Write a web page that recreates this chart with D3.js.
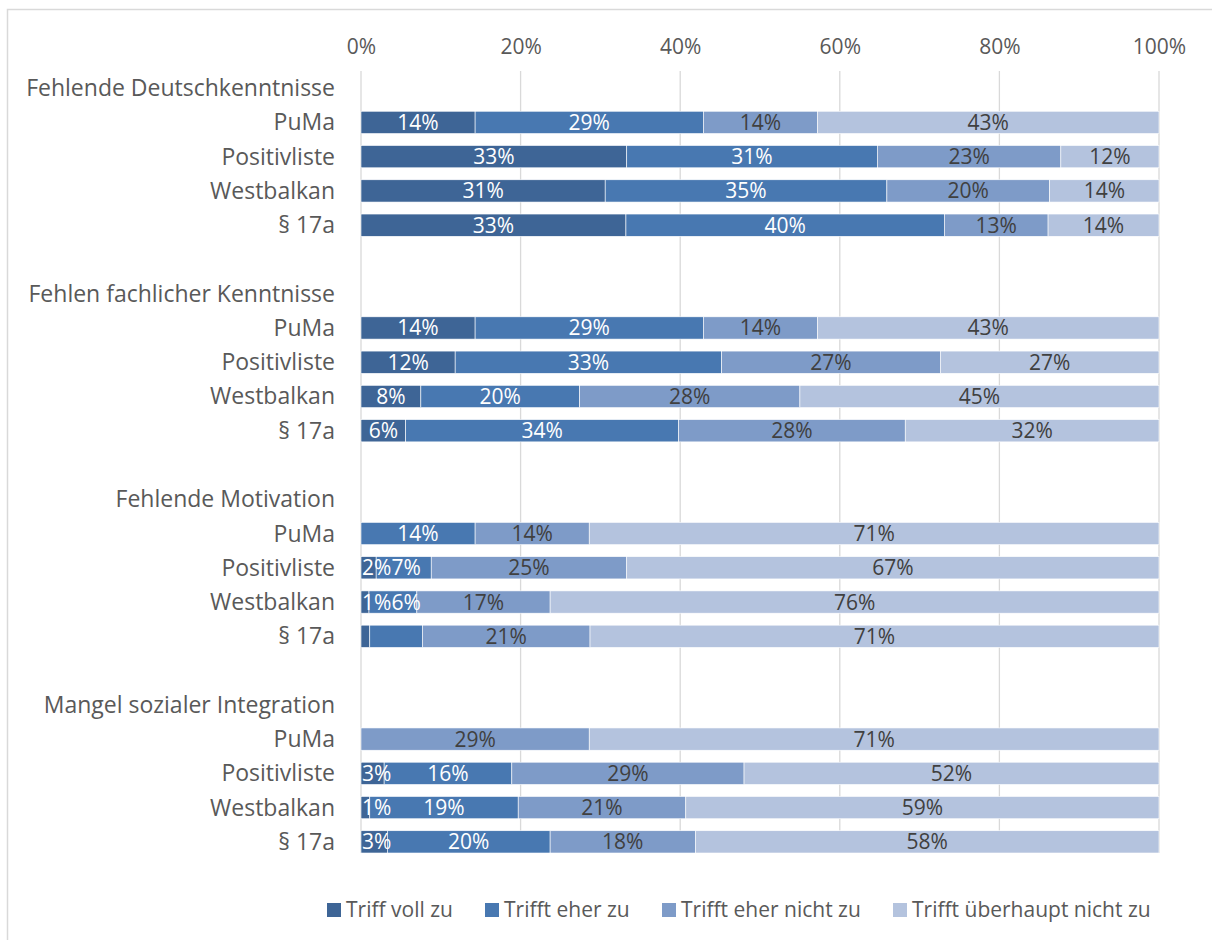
<!DOCTYPE html>
<html><head><meta charset="utf-8">
<script src="https://cdn.jsdelivr.net/npm/d3@7"></script>
<style>body{margin:0;background:#fff}svg{display:block}text{font-family:"Open Sans",sans-serif}</style>
</head><body><svg id="c" width="1212" height="940"></svg>
<script>
const groups = ["Fehlende Deutschkenntnisse", "Fehlen fachlicher Kenntnisse", "Fehlende Motivation", "Mangel sozialer Integration"];
const programs = ["PuMa", "Positivliste", "Westbalkan", "§ 17a"];
const seriesNames = ["Triff voll zu", "Trifft eher zu", "Trifft eher nicht zu", "Trifft überhaupt nicht zu"];
const vollZu          = [14.3, 33.3, 30.6, 33.2, 14.3, 11.8, 7.5, 5.6, 0, 1.9, 1.0, 1.1, 0, 2.9, 1.1, 3.3];
const eherZu          = [28.6, 31.4, 35.3, 39.9, 28.6, 33.4, 19.9, 34.2, 14.3, 6.9, 6.0, 6.6, 0, 16.0, 18.6, 20.4];
const eherNicht       = [14.3, 23.0, 20.4, 13.0, 14.3, 27.4, 27.6, 28.4, 14.3, 24.5, 16.7, 21.0, 28.6, 29.1, 21.0, 18.2];
const ueberhauptNicht = [42.8, 12.3, 13.7, 13.9, 42.8, 27.4, 45.0, 31.8, 71.4, 66.7, 76.3, 71.3, 71.4, 52.0, 59.3, 58.1];
const tickValues = [0, 20, 40, 60, 80, 100];
const hiddenLabels = [[11, 0], [11, 1]]; // [data row, series] without data label
const colors = ["#3e6596", "#4878b1", "#7e9bc8", "#b4c3de"];
const labelColors = ["#ffffff", "#ffffff", "#404040", "#404040"];

const seriesValues = [vollZu, eherZu, eherNicht, ueberhauptNicht];

const rows = [];
let di = 0;
groups.forEach((g, gi) => {
  rows.push({key: "h" + gi, label: g, header: true});
  programs.forEach(p => { rows.push({key: "r" + di, label: p, data: di}); di++; });
  if (gi < groups.length - 1) rows.push({key: "s" + gi, label: ""});
});

const svg = d3.select("#c");
svg.append("rect").attr("x", 7.5).attr("y", 9.5).attr("width", 1220).attr("height", 950)
  .attr("fill", "#fff").attr("stroke", "#d9d9d9").attr("stroke-width", 1.5);

const x = d3.scaleLinear().domain([0, 100]).range([361, 1159]);
const y = d3.scaleBand().domain(rows.map(r => r.key)).range([71, 859]).paddingInner(0.35).paddingOuter(0.175);

svg.append("g").selectAll("line").data(tickValues).join("line")
  .attr("x1", d => x(d)).attr("x2", d => x(d)).attr("y1", 71).attr("y2", 853)
  .attr("stroke", "#d9d9d9").attr("stroke-width", 1.3);

const ax = svg.append("g").attr("transform", "translate(0,54)")
  .call(d3.axisTop(x).tickValues(tickValues).tickFormat(d => d + "%").tickSize(0).tickPadding(0));
ax.select(".domain").remove();
ax.selectAll("text").attr("font-size", 21).attr("fill", "#595959").attr("dy", 0)
  .style("font-family", "'Open Sans',sans-serif");

svg.append("g").selectAll("text").data(rows.filter(r => r.label)).join("text")
  .attr("x", 335).attr("y", r => y(r.key) + y.bandwidth() / 2 + 8)
  .attr("text-anchor", "end").attr("font-size", 23).attr("fill", "#595959")
  .text(r => r.label);

const dataRows = rows.filter(r => r.data !== undefined);
const segs = [];
dataRows.forEach(r => {
  let acc = 0;
  seriesValues.forEach((vals, si) => {
    const v = vals[r.data];
    segs.push({row: r, si, x0: acc, x1: acc + v, v});
    acc += v;
  });
});

svg.append("defs").append("clipPath").attr("id", "plotclip")
  .append("rect").attr("x", 361).attr("y", 60).attr("width", 820).attr("height", 810);

svg.append("g").selectAll("rect").data(segs.filter(s => s.v > 0)).join("rect")
  .attr("x", s => x(s.x0)).attr("width", s => x(s.x1) - x(s.x0))
  .attr("y", s => y(s.row.key)).attr("height", y.bandwidth())
  .attr("fill", s => colors[s.si]).attr("stroke", "#ffffff").attr("stroke-width", 0.6);

const isHidden = s => hiddenLabels.some(h => h[0] === s.row.data && h[1] === s.si);
const labels = svg.append("g").attr("clip-path", "url(#plotclip)").selectAll("text")
  .data(segs.filter(s => s.v > 0 && !isHidden(s))).join("text")
  .attr("y", s => y(s.row.key) + y.bandwidth() / 2 + 7.5)
  .attr("text-anchor", "middle").attr("font-size", 21).attr("fill", s => labelColors[s.si])
  .text(s => Math.round(s.v) + "%");

// place labels centred in segment, keep inside plot on the left and avoid overlaps
const lastRight = {};
labels.each(function(s) {
  const w = this.getComputedTextLength();
  let cx = (x(s.x0) + x(s.x1)) / 2;
  const minLeft = Math.max(x(0) + 1, lastRight[s.row.key] ?? -Infinity);
  if (cx - w / 2 < minLeft) cx = minLeft + w / 2;
  lastRight[s.row.key] = cx + w / 2;
  d3.select(this).attr("x", cx);
});

const legX = [327, 485, 662, 893];
const leg = svg.append("g").selectAll("g").data(seriesNames).join("g")
  .attr("transform", (d, i) => `translate(${legX[i]},903)`);
leg.append("rect").attr("width", 14).attr("height", 14).attr("fill", (d, i) => colors[i]);
leg.append("text").attr("x", 19).attr("y", 14).attr("font-size", 21).attr("fill", "#595959").text(d => d);
</script></body></html>
